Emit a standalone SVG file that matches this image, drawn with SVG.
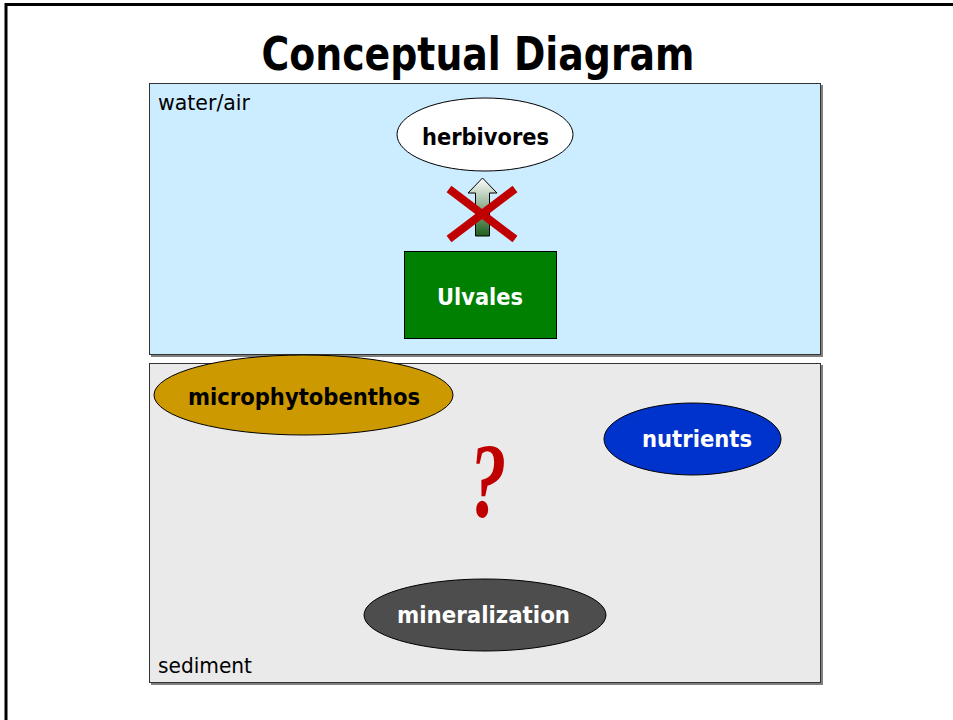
<svg xmlns="http://www.w3.org/2000/svg" width="953" height="720" viewBox="0 0 953 720">
<style>
.lbl{font-family:"DejaVu Sans","Liberation Sans",sans-serif;font-weight:bold;font-size:23px;text-anchor:middle}
.zone{font-family:"DejaVu Sans","Liberation Sans",sans-serif;font-size:21px}
.node{stroke:#000;stroke-width:1}
</style>
<defs>
<linearGradient id="arrowGrad" x1="0" y1="0" x2="0" y2="1">
<stop offset="0" stop-color="#ffffff"/>
<stop offset="1" stop-color="#1e5e1e"/>
</linearGradient>
</defs>
<rect width="953" height="720" fill="#ffffff"/>
<!-- frame -->
<path d="M6,720 V4.5 H953" fill="none" stroke="#000" stroke-width="3"/>
<text x="478" y="70" font-family="DejaVu Sans, Liberation Sans, sans-serif" font-weight="bold" font-size="46" text-anchor="middle" textLength="433" lengthAdjust="spacingAndGlyphs">Conceptual Diagram</text>

<g id="zone-water">
<rect x="151" y="85" width="672" height="272" fill="#808080"/>
<rect x="149.5" y="83.5" width="671" height="271" fill="#CCECFF" stroke="#333" stroke-width="1"/>
<text class="zone" x="158" y="110" textLength="92" lengthAdjust="spacingAndGlyphs">water/air</text>
</g>
<g id="zone-sediment">
<rect x="151" y="365" width="672" height="320" fill="#808080"/>
<rect x="149.5" y="363.5" width="671" height="319" fill="#EAEAEA" stroke="#333" stroke-width="1"/>
<text class="zone" x="158" y="673" textLength="94" lengthAdjust="spacingAndGlyphs">sediment</text>
</g>

<g id="connectors">
<path d="M475.5,236 V193 H468 L482.5,178 L497,193 H489.5 V236 Z" fill="url(#arrowGrad)" stroke="#000" stroke-width="1"/>
<g stroke="#C00000" stroke-width="8">
<line x1="449" y1="189" x2="515" y2="239"/>
<line x1="515" y1="189" x2="449" y2="239"/>
</g>
</g>

<g id="herbivores">
<ellipse class="node" cx="485" cy="134.5" rx="88" ry="36.5" fill="#ffffff"/>
<text class="lbl" x="485.5" y="145" fill="#000" textLength="127" lengthAdjust="spacingAndGlyphs">herbivores</text>
</g>
<g id="ulvales">
<rect x="404.5" y="251.5" width="152" height="87" fill="#008000" stroke="#000" stroke-width="1"/>
<text class="lbl" x="480" y="305" fill="#fff" textLength="86" lengthAdjust="spacingAndGlyphs">Ulvales</text>
</g>
<g id="microphytobenthos">
<ellipse class="node" cx="303.5" cy="395" rx="149.5" ry="40" fill="#CC9900"/>
<text class="lbl" x="304" y="405" fill="#000" textLength="232" lengthAdjust="spacingAndGlyphs">microphytobenthos</text>
</g>
<g id="nutrients">
<ellipse class="node" cx="692.5" cy="439" rx="88.5" ry="36" fill="#0033CC"/>
<text class="lbl" x="697" y="447" fill="#fff" textLength="110" lengthAdjust="spacingAndGlyphs">nutrients</text>
</g>
<g id="mineralization">
<ellipse class="node" cx="485" cy="615" rx="121" ry="36" fill="#4D4D4D"/>
<text class="lbl" x="483.5" y="623" fill="#fff" textLength="173" lengthAdjust="spacingAndGlyphs">mineralization</text>
</g>
<g id="question">
<text x="0" y="0" transform="translate(488,517) scale(0.7,1)" font-family="Liberation Serif, serif" font-style="italic" font-weight="bold" font-size="106" fill="#C00000" text-anchor="middle">?</text>
</g>
</svg>
